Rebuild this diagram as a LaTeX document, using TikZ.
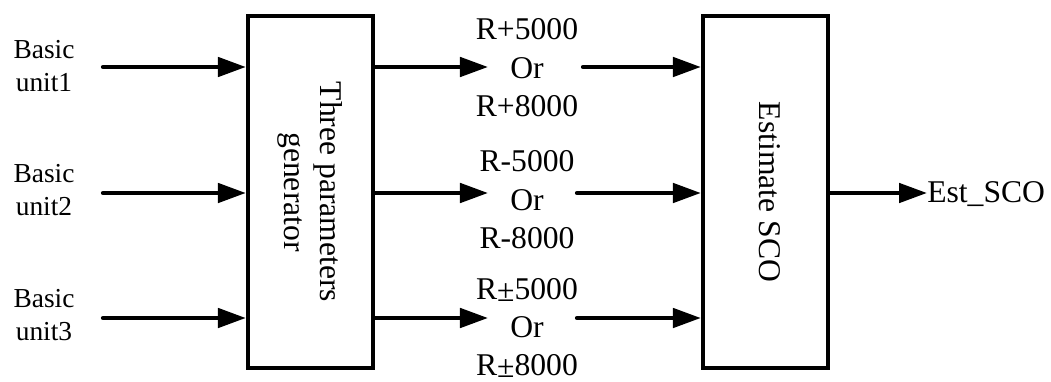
\documentclass[tikz,border=0pt]{standalone}
\usepackage{fontspec}
\setmainfont{Liberation Serif}
\usetikzlibrary{arrows.meta,positioning}

\begin{document}
\begin{tikzpicture}[
    x=0.025cm, y=-0.025cm, % 1 unit = 1 pixel of the drawing
    >={Triangle[length=0.7cm,width=0.48cm]},
    block/.style={draw, line width=3pt, minimum width=3.125cm, minimum height=8.8cm, inner sep=0pt},
    lbl/.style={font=\fontsize{22.5}{27.3}\selectfont, align=center, inner sep=0pt},
    inlbl/.style={font=\fontsize{19.5}{24}\selectfont, align=center, inner sep=0pt},
    sig/.style={->, line width=3pt, line cap=round}
]
    \useasboundingbox (0,0) rectangle (1051,381);

    % --- 1. Blocks ---
    \node[block] (gen) at (310.5,192) {};
    \node[block] (est) at (765.5,192) {};

    % rotated texts in the blocks
    \node[lbl, rotate=-90, font=\fontsize{22.5}{26.2}\selectfont] (gentxt) at (310,192) {Three parameters\\generator};
    \node[lbl, rotate=-90] (esttxt) at (770,192) {Estimate SCO};

    % --- 2. Inputs ---
    \node[inlbl] (in1) at (44,66) {Basic\\unit1};
    \node[inlbl] (in2) at (44,190) {Basic\\unit2};
    \node[inlbl] (in3) at (44,315) {Basic\\unit3};

    \coordinate (s1) at (103,67);
    \coordinate (s2) at (103,193);
    \coordinate (s3) at (103,318);

    \draw[sig] (s1) -- (s1 -| gen.west);
    \draw[sig] (s2) -- (s2 -| gen.west);
    \draw[sig] (s3) -- (s3 -| gen.west);

    % --- 3. Parameters between the blocks ---
    \node[lbl] (p1) at (527,68) {R+5000\\Or\\R+8000};
    \node[lbl] (p2) at (527,200) {R-5000\\Or\\R-8000};
    \node[lbl, font=\fontsize{22.5}{26.8}\selectfont] (p3) at (527,328) {R\raisebox{-0.15ex}{±}5000\\Or\\R\raisebox{-0.15ex}{±}8000};

    \coordinate (m1l) at (488,67);
    \coordinate (m2l) at (488,193);
    \coordinate (m3l) at (488,318);
    \coordinate (m1r) at (583,67);
    \coordinate (m2r) at (577,193);
    \coordinate (m3r) at (577,318);

    \draw[sig] (gen.east |- m1l) -- (m1l);
    \draw[sig] (gen.east |- m2l) -- (m2l);
    \draw[sig] (gen.east |- m3l) -- (m3l);

    \draw[sig] (m1r) -- (m1r -| est.west);
    \draw[sig] (m2r) -- (m2r -| est.west);
    \draw[sig] (m3r) -- (m3r -| est.west);

    % --- 4. Output ---
    \node[lbl, anchor=base west] (out) at (927,202) {Est\_SCO};
    \draw[sig] (est.east |- m2l) -- (est.east |- m2l -| out.west);

\end{tikzpicture}
\end{document}
